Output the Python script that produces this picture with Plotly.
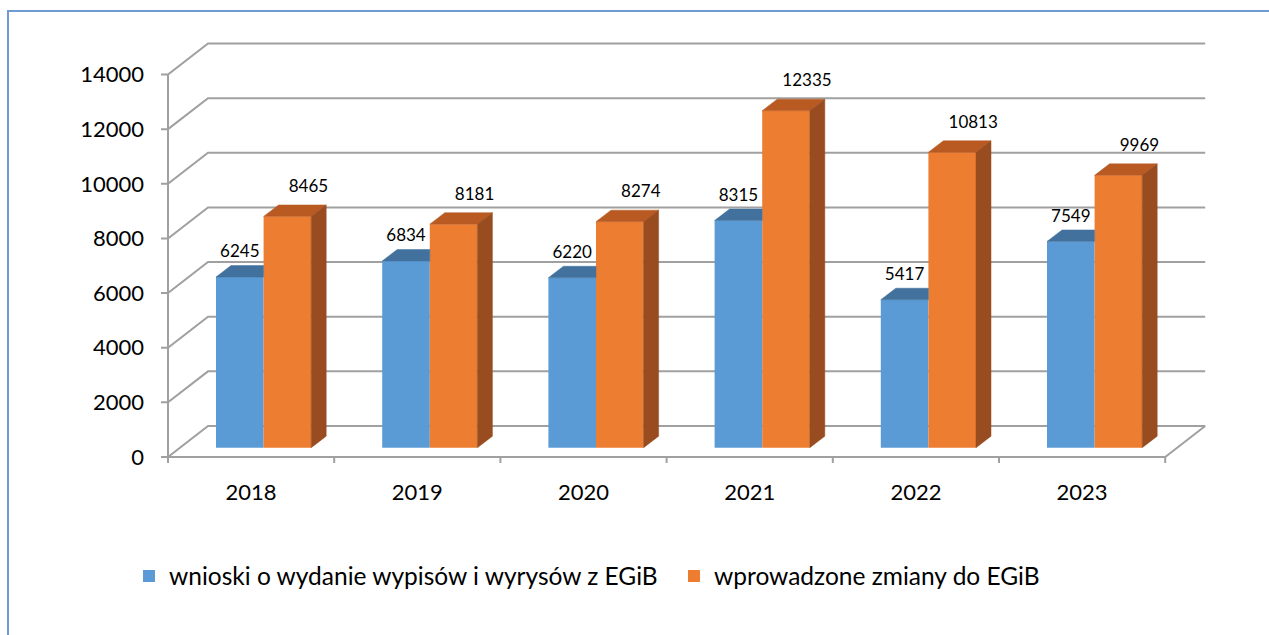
import plotly.graph_objects as go

# ---------------- data ----------------
years = ["2018", "2019", "2020", "2021", "2022", "2023"]
wnioski = [6245, 6834, 6220, 8315, 5417, 7549]
zmiany = [8465, 8181, 8274, 12335, 10813, 9969]
y_ticks = [0, 2000, 4000, 6000, 8000, 10000, 12000, 14000]
name_wnioski = "wnioski o wydanie wypisów i wyrysów z EGiB"
name_zmiany = "wprowadzone zmiany do EGiB"

# ---------------- geometry / style ----------------
W, H = 1269, 635
ML, MR, MT, MB = 161, 59, 36, 170
PX_CAT = 166.2          # pixels per category band
PX_UNIT = 0.02732       # pixels per value unit
ORIGIN_X, ORIGIN_Y = 168, 457
plot_w = W - ML - MR
plot_h = H - MT - MB
x_lo = (ML - ORIGIN_X) / PX_CAT
x_hi = x_lo + plot_w / PX_CAT
y_lo = -((H - MB) - ORIGIN_Y) / PX_UNIT
y_hi = y_lo + plot_h / PX_UNIT

DEPTH_X = 40 / PX_CAT          # back wall offset
DEPTH_Y = 31 / PX_UNIT
BASE = 0.3 * DEPTH_Y           # bars stand a bit behind the front edge
BAR_LEFT = 48 / PX_CAT         # left edge of first bar inside band
BAR_W = 47.6 / PX_CAT
BAR_DX = 15 / PX_CAT           # bar depth
BAR_DY = 11.5 / PX_UNIT
STUB_X = (ML - ORIGIN_X) / PX_CAT
STUB_Y = -6 / PX_UNIT
LBL_B = 12.5 / PX_UNIT
LBL_O = 17 / PX_UNIT
LBL_O_DX = 21 / PX_CAT

BLUE, BLUE_TOP = "#5B9BD5", "#41719C"
ORANGE, ORANGE_TOP, ORANGE_SIDE = "#ED7D31", "#B85A22", "#984C1F"
GRID = "#A0A0A0"
FONT = "Lato"
n = len(years)

fig = go.Figure()

# ---------------- walls / grid (main subplot, behind bars) ----------------
gx, gy = [], []
for v in y_ticks:
    gx += [STUB_X, 0, DEPTH_X, n + DEPTH_X, None]
    gy += [v, v, v + DEPTH_Y, v + DEPTH_Y, None]
# front floor line and right floor edge
gx += [0, n, n + DEPTH_X, None]
gy += [0, 0, DEPTH_Y, None]
# front vertical axis
gx += [0, 0, None]
gy += [0, y_ticks[-1], None]
# category tick marks
for k in range(n + 1):
    gx += [k, k, None]
    gy += [0, STUB_Y, None]
fig.add_trace(go.Scatter(x=gx, y=gy, mode="lines", line=dict(color=GRID, width=2),
                         hoverinfo="skip", showlegend=False, xaxis="x", yaxis="y"))

# ---------------- bars (overlay subplot) ----------------
xb = [i + BAR_LEFT + BAR_W / 2 for i in range(n)]
xo = [i + BAR_LEFT + BAR_W * 1.5 for i in range(n)]

fig.add_trace(go.Bar(x=xb, y=wnioski, base=BASE, width=BAR_W, name=name_wnioski,
                     marker=dict(color=BLUE, line=dict(width=0)),
                     xaxis="x2", yaxis="y2", hoverinfo="y"))
fig.add_trace(go.Bar(x=xo, y=zmiany, base=BASE, width=BAR_W, name=name_zmiany,
                     marker=dict(color=ORANGE, line=dict(width=0)),
                     xaxis="x2", yaxis="y2", hoverinfo="y"))

# top faces of blue bars (right part hidden behind orange bar)
bx, by = [], []
for c, v in zip(xb, wnioski):
    l, r, t = c - BAR_W / 2, c + BAR_W / 2, BASE + v
    bx += [l, r, r, l + BAR_DX, l, None]
    by += [t, t, t + BAR_DY, t + BAR_DY, t, None]
fig.add_trace(go.Scatter(x=bx, y=by, mode="lines", fill="toself", fillcolor=BLUE_TOP,
                         line=dict(color=BLUE_TOP, width=0.5), hoverinfo="skip",
                         showlegend=False, xaxis="x2", yaxis="y2"))

# top and side faces of orange bars
tx, ty, sx, sy = [], [], [], []
for c, v in zip(xo, zmiany):
    l, r, t = c - BAR_W / 2, c + BAR_W / 2, BASE + v
    tx += [l, r, r + BAR_DX, l + BAR_DX, l, None]
    ty += [t, t, t + BAR_DY, t + BAR_DY, t, None]
    sx += [r, r, r + BAR_DX, r + BAR_DX, r, None]
    sy += [BASE, t, t + BAR_DY, BASE + BAR_DY, BASE, None]
fig.add_trace(go.Scatter(x=tx, y=ty, mode="lines", fill="toself", fillcolor=ORANGE_TOP,
                         line=dict(color=ORANGE_TOP, width=0.5), hoverinfo="skip",
                         showlegend=False, xaxis="x2", yaxis="y2"))
fig.add_trace(go.Scatter(x=sx, y=sy, mode="lines", fill="toself", fillcolor=ORANGE_SIDE,
                         line=dict(color=ORANGE_SIDE, width=0.5), hoverinfo="skip",
                         showlegend=False, xaxis="x2", yaxis="y2"))

# ---------------- data labels ----------------
fig.add_trace(go.Scatter(x=xb, y=[BASE + v + BAR_DY + LBL_B for v in wnioski],
                         text=[str(v) for v in wnioski], mode="text",
                         textfont=dict(family=FONT, size=17, color="#000000"),
                         cliponaxis=False, hoverinfo="skip", showlegend=False,
                         xaxis="x2", yaxis="y2"))
fig.add_trace(go.Scatter(x=[c + LBL_O_DX for c in xo],
                         y=[BASE + v + BAR_DY + LBL_O for v in zmiany],
                         text=[str(v) for v in zmiany], mode="text",
                         textfont=dict(family=FONT, size=17, color="#000000"),
                         cliponaxis=False, hoverinfo="skip", showlegend=False,
                         xaxis="x2", yaxis="y2"))

# ---------------- border (top & left edges only visible) ----------------
def px_to_paper_x(px):
    return (px - ML) / plot_w

def px_to_paper_y(py):
    return ((H - MB) - py) / plot_h

fig.add_shape(type="path", xref="paper", yref="paper",
              path=f"M {px_to_paper_x(8)} {px_to_paper_y(H + 20)} "
                   f"L {px_to_paper_x(8)} {px_to_paper_y(11)} "
                   f"L {px_to_paper_x(W + 20)} {px_to_paper_y(11)}",
              line=dict(color="#6E9BD4", width=2))

fig.update_layout(
    width=W, height=H,
    margin=dict(l=ML, r=MR, t=MT, b=MB, autoexpand=False),
    paper_bgcolor="white", plot_bgcolor="white",
    font=dict(family=FONT, color="#000000"),
    barmode="overlay",
    showlegend=True,
    legend=dict(orientation="h", x=px_to_paper_x(129), y=px_to_paper_y(576),
                xanchor="left", yanchor="middle", font=dict(family=FONT, size=24.5),
                entrywidth=500, entrywidthmode="pixels",
                bgcolor="rgba(0,0,0,0)", traceorder="normal"),
    xaxis=dict(range=[x_lo, x_hi], tickmode="array",
               tickvals=[i + 0.5 for i in range(n)], ticktext=years,
               showgrid=False, zeroline=False, showline=False, ticks="",
               tickfont=dict(family=FONT, size=22), ticklabelstandoff=12,
               automargin=False, fixedrange=True),
    yaxis=dict(range=[y_lo, y_hi], tickmode="array", tickvals=y_ticks,
               ticktext=[str(v) for v in y_ticks],
               showgrid=False, zeroline=False, showline=False, ticks="",
               tickfont=dict(family=FONT, size=22), ticklabelstandoff=16,
               automargin=False, fixedrange=True),
    xaxis2=dict(range=[x_lo, x_hi], overlaying="x", visible=False, fixedrange=True),
    yaxis2=dict(range=[y_lo, y_hi], overlaying="y", visible=False, fixedrange=True),
)

fig.write_html("out.html",
               config={"displayModeBar": False},
               post_script="document.body.style.margin='0';document.body.style.overflow='hidden';")
